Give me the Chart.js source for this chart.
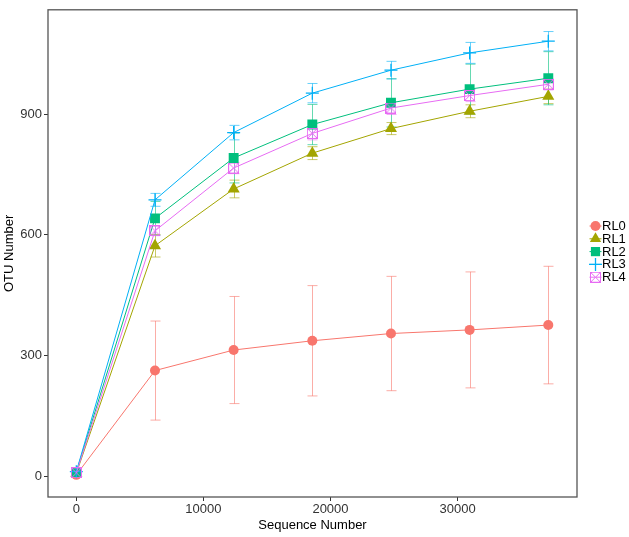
<!DOCTYPE html>
<html>
<head>
<meta charset="utf-8">
<script src="https://cdn.jsdelivr.net/npm/chart.js@4.4.1/dist/chart.umd.min.js"></script>
<style>
  html, body { margin: 0; padding: 0; background: #fff; }
  #wrap { width: 629px; height: 537px; position: relative; }
</style>
</head>
<body>
<div id="wrap"><canvas id="rarefactionChart"></canvas></div>
<script>
// sequencing depth (x) for every sample group
const seqDepth = [0, 6190, 12380, 18570, 24760, 30950, 37140];

const groupNames = ['RL0', 'RL1', 'RL2', 'RL3', 'RL4'];

// mean OTU number per depth
const rl0Mean = [4, 263, 314, 337, 355, 364, 376];
const rl1Mean = [8, 573, 714, 803, 864, 907, 944];
const rl2Mean = [11, 641, 791, 874, 928, 962, 989];
const rl3Mean = [12, 687, 854, 952, 1009, 1052, 1081];
const rl4Mean = [9, 610, 766, 852, 915, 946, 974];

// error bar half-widths
const rl0Err = [2, 123, 133, 137, 142, 144, 146];
const rl1Err = [3, 28, 22, 16, 15, 16, 18];
const rl2Err = [4, 42, 62, 50, 60, 62, 66];
const rl3Err = [3, 16, 18, 24, 22, 26, 24];
const rl4Err = [3, 12, 14, 16, 16, 15, 14];

const xTickValues = [0, 10000, 20000, 30000];
const yTickValues = [0, 300, 600, 900];

const means = [rl0Mean, rl1Mean, rl2Mean, rl3Mean, rl4Mean];
const errs = [rl0Err, rl1Err, rl2Err, rl3Err, rl4Err];

// ggplot default hue palette
const colors = ['#F8766D', '#A3A500', '#00BF7D', '#00B0F6', '#E76BF3'];
const errColors = ['rgba(248,118,109,0.6)', 'rgba(163,165,0,0.6)', 'rgba(0,191,125,0.6)',
                   'rgba(0,176,246,0.6)', 'rgba(231,107,243,0.6)'];

const FONT = "'Liberation Sans', Arial, sans-serif";

// hollow square with a cross inside (ggplot shape 7)
function squareCross(color, size) {
    const c = document.createElement('canvas');
    c.width = size; c.height = size;
    const g = c.getContext('2d');
    g.strokeStyle = color;
    g.lineWidth = 1;
    g.strokeRect(0.5, 0.5, size - 1, size - 1);
    g.beginPath();
    g.moveTo(0.5, 0.5); g.lineTo(size - 0.5, size - 0.5);
    g.moveTo(size - 0.5, 0.5); g.lineTo(0.5, size - 0.5);
    g.stroke();
    return c;
}

const pointStyles = ['circle', 'triangle', 'rect', 'cross', squareCross(colors[4], 11)];
const pointRadii = [5, 7, 7, 6.5, 5.5];

const datasets = groupNames.map((name, i) => ({
    label: name,
    data: seqDepth.map((x, j) => ({ x: x, y: means[i][j] })),
    borderColor: colors[i],
    backgroundColor: colors[i],
    borderWidth: 1,
    pointStyle: pointStyles[i],
    pointRadius: pointRadii[i],
    pointBorderWidth: i === 3 ? 1.3 : 0,
    pointBorderColor: colors[i],
    pointBackgroundColor: colors[i],
    order: 5 - i,
    tension: 0
}));

// vertical error bars with caps, placed through the chart scales
const errorBars = {
    id: 'errorBars',
    beforeDatasetsDraw(chart) {
        const ctx = chart.ctx;
        const xs = chart.scales.x, ys = chart.scales.y;
        ctx.save();
        ctx.lineWidth = 1;
        means.forEach((m, i) => {
            ctx.strokeStyle = errColors[i];
            ctx.beginPath();
            seqDepth.forEach((d, j) => {
                const px = Math.round(xs.getPixelForValue(d)) + 0.5;
                const top = ys.getPixelForValue(m[j] + errs[i][j]);
                const bot = ys.getPixelForValue(m[j] - errs[i][j]);
                ctx.moveTo(px, top); ctx.lineTo(px, bot);
                ctx.moveTo(px - 5, top); ctx.lineTo(px + 5, top);
                ctx.moveTo(px - 5, bot); ctx.lineTo(px + 5, bot);
            });
            ctx.stroke();
        });
        ctx.restore();
    }
};

// panel border and legend on the right
const panelAndLegend = {
    id: 'panelAndLegend',
    afterDraw(chart) {
        const ctx = chart.ctx;
        const a = chart.chartArea;
        ctx.save();
        ctx.strokeStyle = '#555';
        ctx.lineWidth = 1.3;
        ctx.strokeRect(a.left, a.top, a.right - a.left, a.bottom - a.top);

        ctx.font = '13px ' + FONT;
        ctx.textBaseline = 'middle';
        ctx.textAlign = 'left';
        const legendRadii = [5, 6.5, 6.5, 6.5];
        groupNames.forEach((name, i) => {
            const y = 226 + i * 12.8;
            const x = 595.5;
            ctx.strokeStyle = colors[i];
            ctx.fillStyle = colors[i];
            ctx.lineWidth = 1;
            ctx.beginPath();
            ctx.moveTo(x - 6, y); ctx.lineTo(x + 6, y);
            ctx.stroke();
            ctx.lineWidth = i === 3 ? 1.3 : 0;
            if (i === 4) {
                ctx.drawImage(pointStyles[4], x - 5.5, y - 5.5);
            } else {
                Chart.helpers.drawPoint(ctx, {
                    pointStyle: pointStyles[i],
                    radius: legendRadii[i],
                    borderWidth: i === 3 ? 1.3 : 0,
                    rotation: 0
                }, x, y);
            }
            ctx.fillStyle = '#000';
            ctx.fillText(name, 602, y + 0.5);
        });
        ctx.restore();
    }
};

new Chart(document.getElementById('rarefactionChart'), {
    type: 'line',
    data: { datasets: datasets },
    plugins: [errorBars, panelAndLegend],
    options: {
        responsive: true,
        maintainAspectRatio: false,
        animation: false,
        layout: { padding: { top: 2, right: 52, left: 0, bottom: 0 } },
        plugins: {
            legend: { display: false },
            tooltip: { enabled: false }
        },
        scales: {
            x: {
                type: 'linear',
                min: -2230,
                max: 39400,
                afterFit(scale) { scale.height = 40; },
                afterBuildTicks(scale) { scale.ticks = xTickValues.map(v => ({ value: v })); },
                border: { display: false },
                grid: { drawOnChartArea: false, tickLength: 4, tickColor: '#333', tickWidth: 1 },
                ticks: {
                    color: '#333',
                    font: { family: FONT, size: 13 },
                    padding: 1,
                    maxRotation: 0,
                    callback: v => String(v)
                },
                title: {
                    display: true,
                    text: 'Sequence Number',
                    color: '#000',
                    font: { family: FONT, size: 13 },
                    padding: { top: 0, bottom: 4 }
                }
            },
            y: {
                type: 'linear',
                min: -51,
                max: 1159,
                afterFit(scale) { scale.width = 48; },
                afterBuildTicks(scale) { scale.ticks = yTickValues.map(v => ({ value: v })); },
                border: { display: false },
                grid: { drawOnChartArea: false, tickLength: 4, tickColor: '#333', tickWidth: 1 },
                ticks: {
                    color: '#333',
                    font: { family: FONT, size: 13 },
                    padding: 2,
                    callback: v => String(v)
                },
                title: {
                    display: true,
                    text: 'OTU Number',
                    color: '#000',
                    font: { family: FONT, size: 13 },
                    padding: { top: 2, bottom: 0 }
                }
            }
        }
    }
});
</script>
</body>
</html>
